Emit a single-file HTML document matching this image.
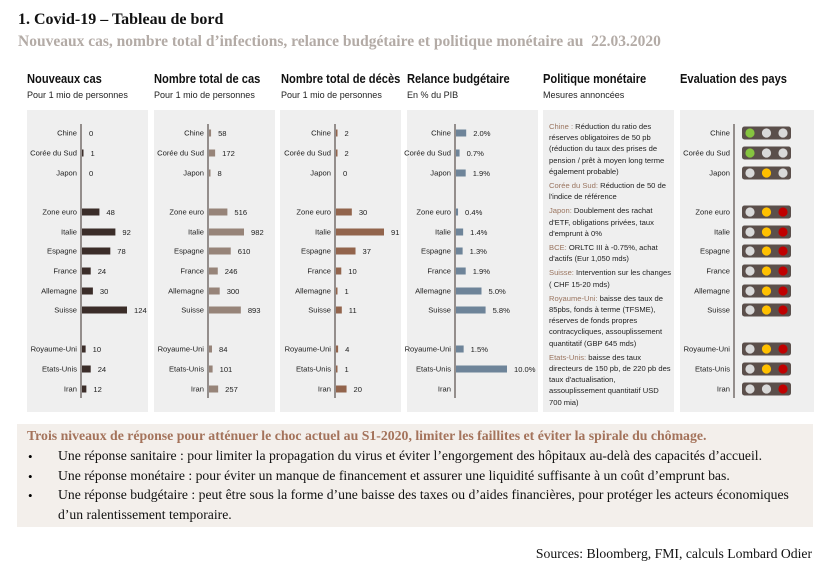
<!DOCTYPE html>
<html><head><meta charset="utf-8">
<style>
body{margin:0;width:830px;height:567px;background:#fff;position:relative;overflow:hidden;font-family:"Liberation Sans",sans-serif;}
.abs{position:absolute;}
.serif{font-family:"Liberation Serif",serif;}
.hd{position:absolute;top:72px;font-size:12.5px;font-weight:bold;color:#111;white-space:nowrap;transform:scaleX(0.89);transform-origin:left top;}
.sub{position:absolute;top:90px;font-size:9.5px;color:#222;white-space:nowrap;transform:scaleX(0.95);transform-origin:left top;}
.panel{position:absolute;top:110px;height:302px;background:#efefef;}
.mp{font-size:7.6px;line-height:11.2px;color:#222;position:absolute;left:549px;top:121px;width:124px;}
.mp p{margin:0 0 3px 0;}
.mp b{font-weight:normal;color:#9a7560;}
.bl{position:absolute;left:58px;font-size:13.7px;color:#111;white-space:nowrap;}
.dot{position:absolute;left:28px;font-size:13px;}
</style></head><body>
<div class="abs serif" style="left:18px;top:11px;font-size:16px;font-weight:bold;color:#111;">1. Covid-19 – Tableau de bord</div>
<div class="abs serif" style="left:18px;top:33px;font-size:15.5px;font-weight:bold;color:#b3aba6;">Nouveaux cas, nombre total d’infections, relance budgétaire et politique monétaire au&nbsp; 22.03.2020</div>

<div class="hd" style="left:27px">Nouveaux cas</div>
<div class="sub" style="left:27px">Pour 1 mio de personnes</div>
<div class="hd" style="left:154px">Nombre total de cas</div>
<div class="sub" style="left:154px">Pour 1 mio de personnes</div>
<div class="hd" style="left:281px">Nombre total de décès</div>
<div class="sub" style="left:281px">Pour 1 mio de personnes</div>
<div class="hd" style="left:407px">Relance budgétaire</div>
<div class="sub" style="left:407px">En % du PIB</div>
<div class="hd" style="left:543px">Politique monétaire</div>
<div class="sub" style="left:543px">Mesures annoncées</div>
<div class="hd" style="left:680px">Evaluation des pays</div>

<div class="panel" style="left:27px;width:121px"></div>
<div class="panel" style="left:154px;width:121px"></div>
<div class="panel" style="left:280px;width:121px"></div>
<div class="panel" style="left:407px;width:131px"></div>
<div class="panel" style="left:543px;width:131px"></div>
<div class="panel" style="left:680px;width:134px"></div>

<div class="mp">
<p><b>Chine :</b> Réduction du ratio des réserves obligatoires de 50 pb (réduction du taux des prises de pension / prêt à moyen long terme également probable)</p>
<p><b>Corée du Sud:</b> Réduction de 50 de l'indice de référence</p>
<p><b>Japon:</b> Doublement des rachat d'ETF, obligations privées, taux d'emprunt à 0%</p>
<p><b>BCE:</b> ORLTC III à -0.75%, achat d'actifs (Eur 1,050 mds)</p>
<p><b>Suisse:</b> Intervention sur les changes ( CHF 15-20 mds)</p>
<p><b>Royaume-Uni:</b> baisse des taux de 85pbs, fonds à terme (TFSME), réserves de fonds propres contracycliques, assouplissement quantitatif (GBP 645 mds)</p>
<p><b>Etats-Unis:</b> baisse des taux directeurs de 150 pb, de 220 pb des taux d'actualisation, assouplissement quantitatif USD 700 mia)</p>
</div>

<svg id="chart" class="abs" style="left:0;top:0" width="830" height="420"></svg>

<div class="abs" style="left:17px;top:424px;width:796px;height:103px;background:#f3efeb;"></div>
<div class="abs serif" style="left:27px;top:428px;font-size:13.8px;font-weight:bold;color:#a4735b;white-space:nowrap;">Trois niveaux de réponse pour atténuer le choc actuel au S1-2020, limiter les faillites et éviter la spirale du chômage.</div>
<div class="serif">
<span class="dot abs" style="top:449px">•</span><div class="bl" style="top:448px">Une réponse sanitaire : pour limiter la propagation du virus et éviter l’engorgement des hôpitaux au-delà des capacités d’accueil.</div>
<span class="dot abs" style="top:469px">•</span><div class="bl" style="top:468px">Une réponse monétaire : pour éviter un manque de financement et assurer une liquidité suffisante à un coût d’emprunt bas.</div>
<span class="dot abs" style="top:488px">•</span><div class="bl" style="top:487px">Une réponse budgétaire : peut être sous la forme d’une baisse des taxes ou d’aides financières, pour protéger les acteurs économiques</div>
<div class="bl" style="top:507px">d’un ralentissement temporaire.</div>
</div>
<div class="abs serif" style="right:18px;top:546px;font-size:13.7px;color:#111;">Sources: Bloomberg, FMI, calculs Lombard Odier</div>

<script>
const countries=["Chine","Corée du Sud","Japon","Zone euro","Italie","Espagne","France","Allemagne","Suisse","Royaume-Uni","Etats-Unis","Iran"];
const newCases=[0,1,0,48,92,78,24,30,124,10,24,12];
const totalCases=[58,172,8,516,982,610,246,300,893,84,101,257];
const deaths=[2,2,0,30,91,37,10,1,11,4,1,20];
const fiscal=[2.0,0.7,1.9,0.4,1.4,1.3,1.9,5.0,5.8,1.5,10.0,null];
const fiscalLabels=["2.0%","0.7%","1.9%","0.4%","1.4%","1.3%","1.9%","5.0%","5.8%","1.5%","10.0%",""];
const lights=["g","g","y","yr","yr","yr","yr","yr","yr","yr","yr","r"];
const rowY=[133,153,173,212,232,251,271,291,310,349,369,389];
const svg=document.getElementById('chart');
const NS='http://www.w3.org/2000/svg';
function mk(t,a){const e=document.createElementNS(NS,t);for(const k in a)e.setAttribute(k,a[k]);svg.appendChild(e);return e;}
function txt(x,y,s,anchor){const e=mk('text',{x:x,y:y,'font-size':'7.6','font-family':'Liberation Sans, sans-serif','fill':'#222','text-anchor':anchor||'start'});e.textContent=s;return e;}
function panel(axisX,values,labels,scale,color,name){
  const ax=mk('line',{x1:axisX,y1:124,x2:axisX,y2:398,stroke:'#3a2e2a','stroke-width':1});
  
  
  values.forEach((v,i)=>{
    const y=rowY[i];
    const l=txt(axisX-4,y+2.5,countries[i],'end');
    
    
    if(v===null)return;
    const w=Math.max(v*scale,v>0?1.5:0);
    const r=mk('rect',{x:axisX+1,y:y-3.5,width:w,height:7,fill:color});
    
    
    const vl=txt(axisX+1+w+7,y+3,labels?labels[i]:String(v));
    
    
  });
}
panel(81,newCases,null,45/124,'#3b2d29','new-cases');
panel(208,totalCases,null,35/982,'#978479','total-cases');
panel(335,deaths,null,48/91,'#92644c','deaths');
panel(455,fiscal,fiscalLabels,5.1,'#6e8499','fiscal');
const ax6=mk('line',{x1:734,y1:124,x2:734,y2:398,stroke:'#3a2e2a','stroke-width':1});


lights.forEach((s,i)=>{
  const y=rowY[i];
  const l=txt(730,y+2.5,countries[i],'end');
  
  
  const b=mk('rect',{x:742,y:y-6.5,width:49,height:13,rx:2.5,fill:'#5b4f4b'});
  
  
  const cols=[s.includes('g')?'#86c440':'#d9d9d9',s.includes('y')?'#ffc000':'#d9d9d9',s.includes('r')?'#c00000':'#d9d9d9'];
  [750,766.5,783].forEach((cx,k)=>{
    const c=mk('circle',{cx:cx,cy:y,r:4.6,fill:cols[k]});
    
    
  });
});
</script>
</body></html>
